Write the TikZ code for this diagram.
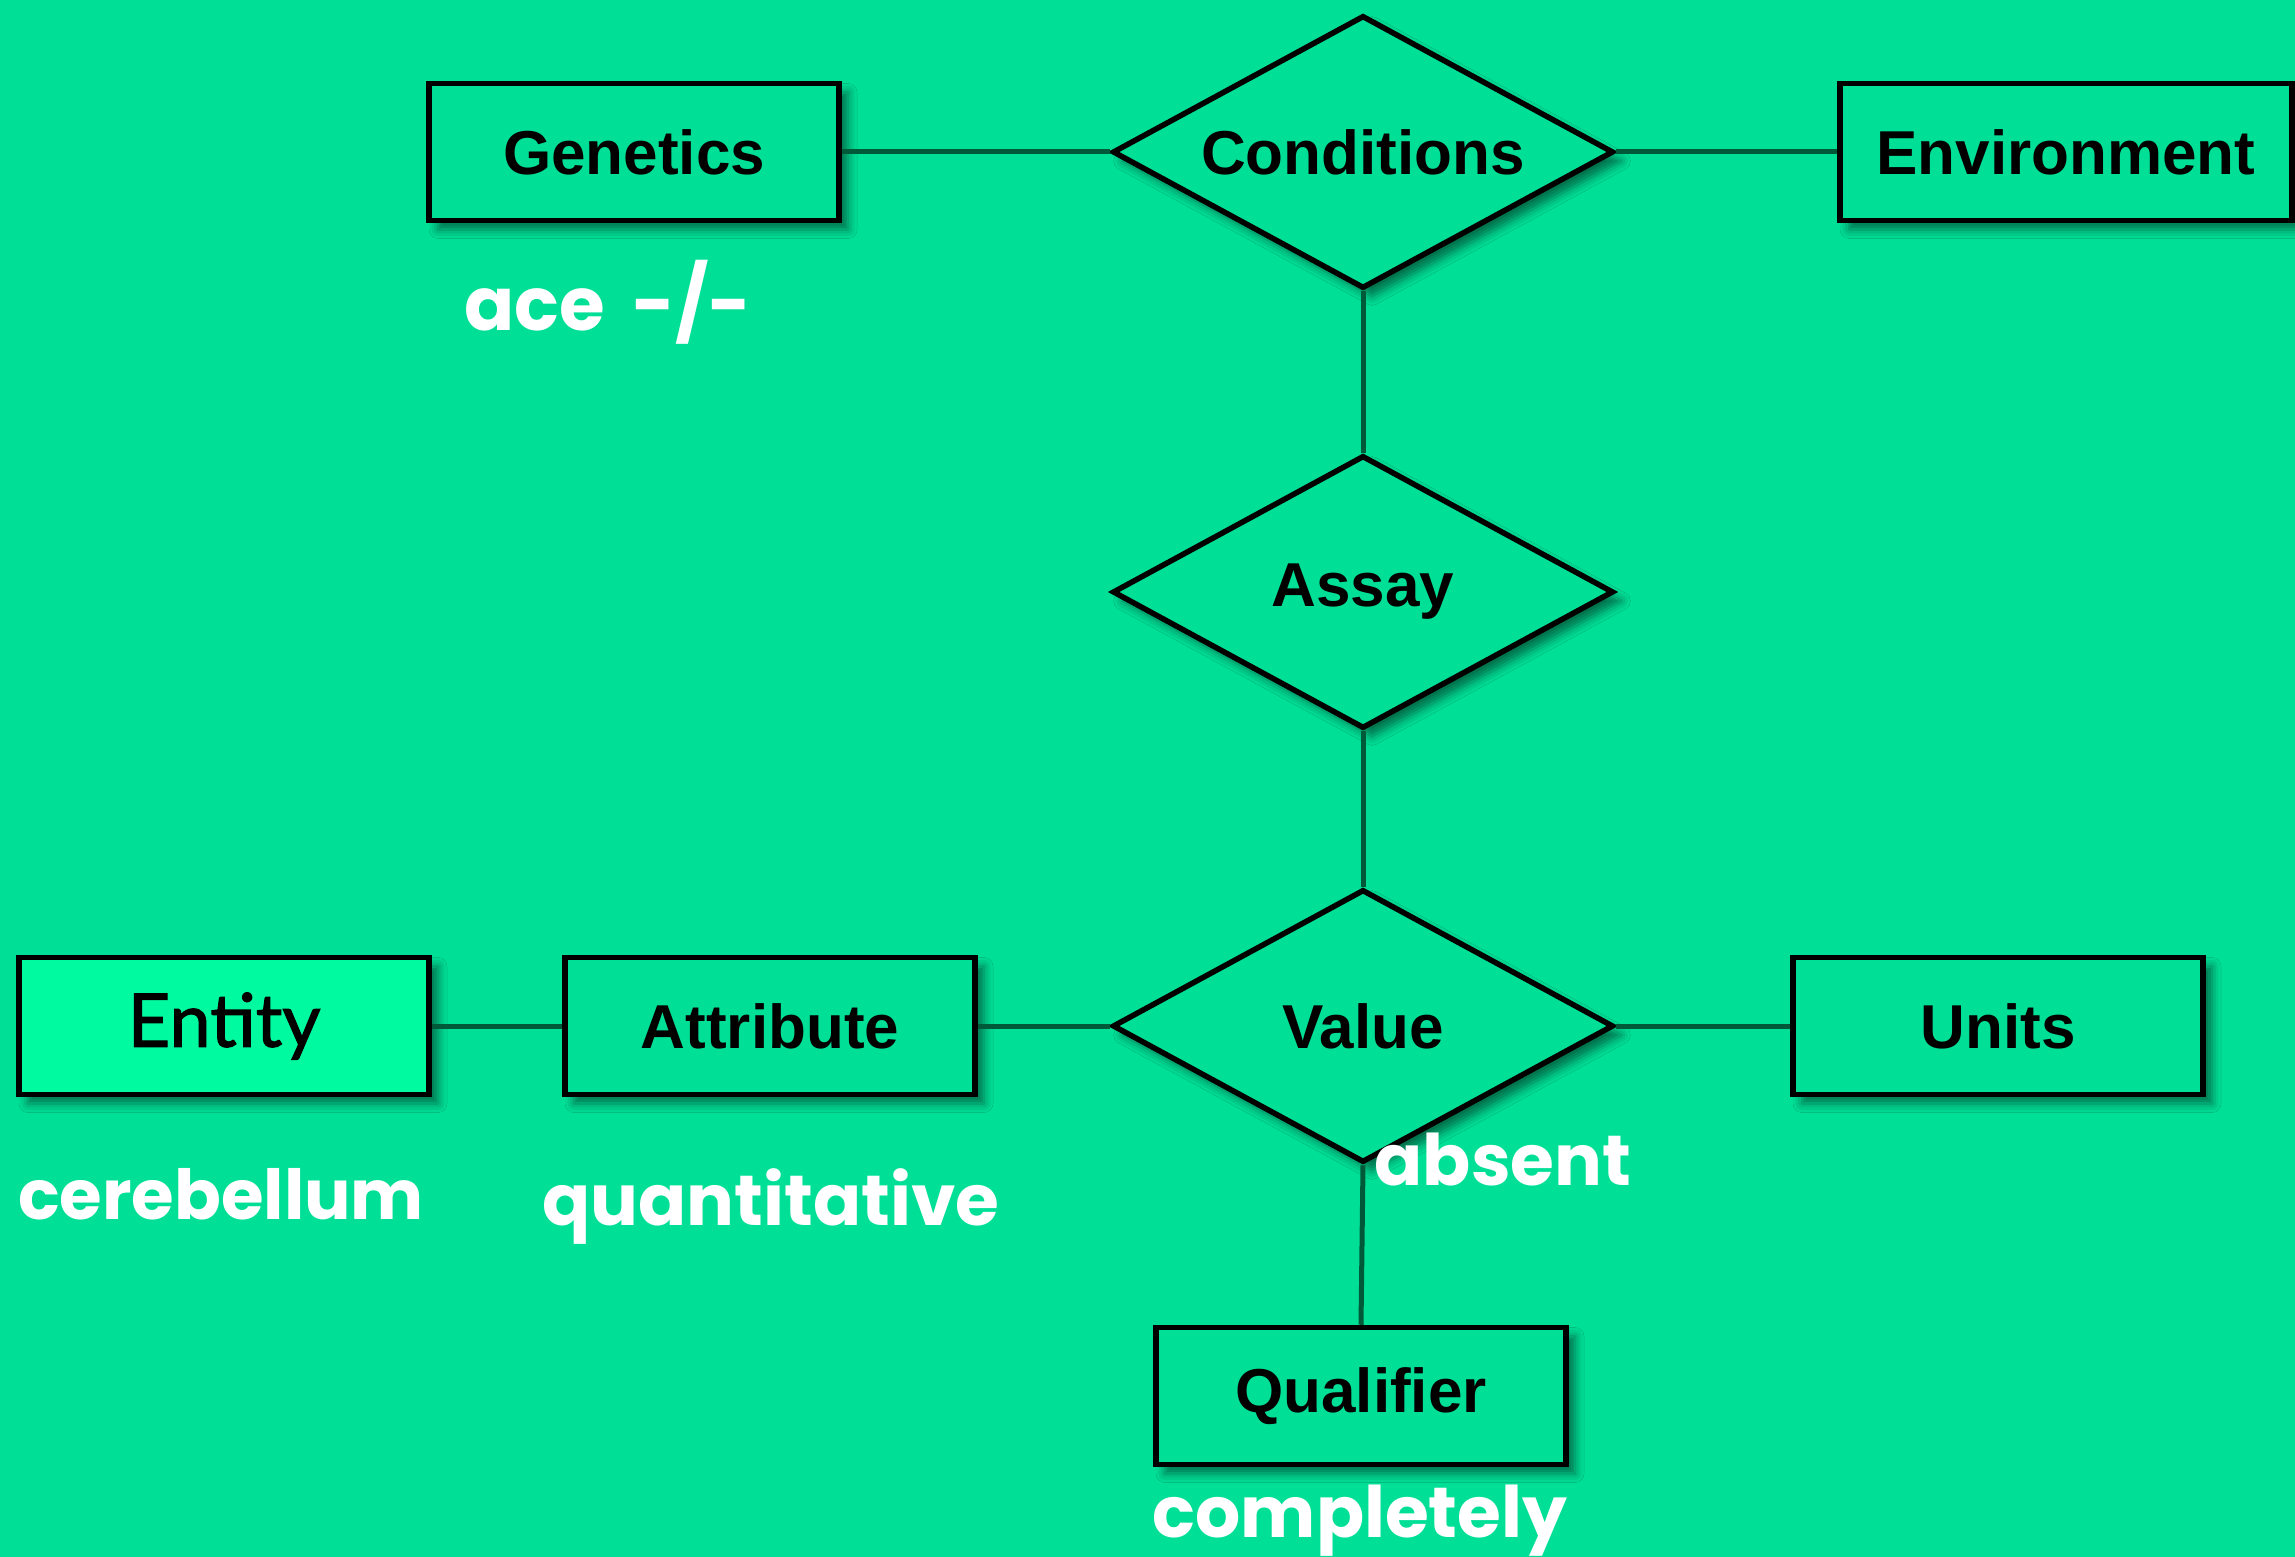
\documentclass[tikz,border=0pt]{standalone}
\usepackage{fontspec}
\setmainfont{Liberation Sans}
\newfontfamily\entfont[FakeBold=1.5]{Lato}
\newfontfamily\handfont{Poppins}
\usetikzlibrary{shapes.geometric,shadows.blur}
\definecolor{bgc}{RGB}{0,223,150}
\definecolor{entfill}{RGB}{0,250,160}
\definecolor{linec}{RGB}{0,90,58}
\tikzset{
  ent/.style={draw=black, line width=5.5pt, fill=bgc, minimum width=410pt, minimum height=137pt, inner sep=0pt,
    font=\fontsize{62}{70}\selectfont\bfseries,
    blur shadow={shadow xshift=9pt, shadow yshift=-9pt, shadow blur radius=9pt, shadow opacity=50}},
  rel/.style={diamond, aspect=1.835, draw=black, line width=5.5pt, fill=bgc, minimum width=501pt, minimum height=273pt, inner sep=0pt,
    font=\fontsize{62}{70}\selectfont\bfseries,
    blur shadow={shadow xshift=9pt, shadow yshift=-9pt, shadow blur radius=9pt, shadow opacity=50}},
  conn/.style={draw=linec, line width=5pt},
  hand/.style={text=white, font=\handfont\bfseries\fontsize{71}{80}\selectfont, inner sep=0pt}
}
\begin{document}
\begin{tikzpicture}[x=1pt,y=-1pt]
\fill[bgc] (0,0) rectangle (2295,1557);
\useasboundingbox (0,0) rectangle (2295,1557);
% centres
\coordinate (gc) at (634,152);
\coordinate (cc) at (1363,152);
\coordinate (ec) at (2066,152);
\coordinate (ac) at (1363,592);
\coordinate (vc) at (1363,1026);
\coordinate (enc) at (224,1026);
\coordinate (atc) at (770,1026);
\coordinate (uc) at (1998,1026);
\coordinate (qc) at (1361,1396);
% nodes
\node[ent] (gen) at (gc) {Genetics};
\node[rel] (cond) at (cc) {Conditions};
\node[ent, minimum width=452pt] (env) at (ec) {Environment};
\node[rel] (assay) at (ac) {Assay};
\node[rel] (val) at (vc) {Value};
\node[ent, fill=entfill, font=\entfont\fontsize{74}{80}\selectfont] (entity) at (enc) {Entity};
\node[ent] (attr) at (atc) {Attribute};
\node[ent] (units) at (uc) {Units};
\node[ent] (qual) at (qc) {Qualifier};
% connectors
\draw[conn] (gen.east) -- (cond.west);
\draw[conn] (cond.east) -- (env.west);
\draw[conn] (cond.south) -- (assay.north);
\draw[conn] (assay.south) -- (val.north);
\draw[conn] (val.south) -- (qual.north);
\draw[conn] (entity.east) -- (attr.west);
\draw[conn] (attr.east) -- (val.west);
\draw[conn] (val.east) -- (units.west);
% handwritten labels
\node[hand, font=\handfont\bfseries\fontsize{74}{80}\selectfont] (l1) at (608,302) {ace\hspace{12pt} -/-};
\node[hand, font=\handfont\bfseries\fontsize{69}{80}\selectfont] (l2) at (221,1194) {cerebellum};
\node[hand] (l3) at (771,1206) {quantitative};
\node[hand] (l4) at (1503,1160) {absent};
\node[hand] (l5) at (1360,1521) {completely};
\end{tikzpicture}
\end{document}
